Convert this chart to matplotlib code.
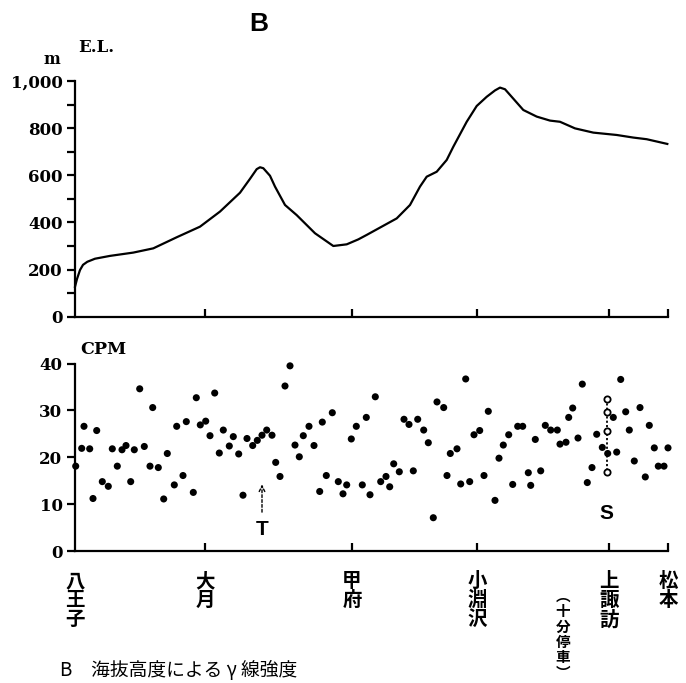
import matplotlib.pyplot as plt
from matplotlib.transforms import blended_transform_factory
from matplotlib.ticker import MultipleLocator

# positions along the line (Hachioji = 0, Matsumoto = 593)
station_x = [0, 130, 277, 402, 534, 593]
station_names = ['八王子', '大月', '甲府', '小淵沢', '上諏訪', '松本']
stop_x = 488
stop_label = '︵十分停車︶'

# elevation profile (m)
el_x = [0, 2, 5, 8, 12.3, 20, 35, 58.3, 78.3, 101.7, 125, 145, 165, 175, 181.7,
        185, 188.3, 195, 200, 210, 221.7, 240, 258.3, 271.7, 283.3, 291.7, 321.7,
        335, 345, 351.7, 361.7, 371.7, 378.3, 391.7, 401.7, 411.7, 420, 425, 430,
        435, 448.3, 461.7, 475, 485, 500, 518.3, 541.7, 558.3, 571.7, 592.3]
el_y = [127, 160, 198, 220, 233, 246, 258, 272, 290, 337, 382, 446, 526, 585, 626,
        634, 630, 598, 552, 474, 431, 354, 300, 307, 328, 347, 417, 474, 552, 594,
        615, 665, 721, 827, 894, 933, 960, 972, 965, 941, 877, 849, 832, 827, 799,
        781, 771, 760, 753, 733]

# gamma-ray counts (CPM)
cpm_x = [0.7, 6.7, 9, 14.7, 18, 21.7, 27.3, 33.3, 37.3, 42.3, 47, 51, 55.7, 59.3,
         64.7, 69.3, 75, 77.7, 83.3, 88.7, 92.3, 99.3, 101.7, 108, 111.3, 118.3,
         121.3, 125.3, 130.7, 135, 139.7, 144.3,
         148.3, 154.3, 158.3, 163.7, 168, 172, 177.7, 182.3, 187, 191.7, 197,
         200.7, 205, 210, 215, 220, 224.3, 228.3, 234, 239, 244.7, 247.3, 251.3,
         257.3, 263.3, 268, 271.7, 276.3, 281.3, 287.3, 291.3, 295,
         300.3, 305.7, 311, 314.7, 318.7, 324.3, 329, 334, 338.3, 342.7, 348.7,
         353.3, 358.3, 362, 368.7, 372, 375.3, 382, 385.7, 390.7, 394.7, 399,
         404.7, 409, 413.3, 420, 424, 428.3, 433.7, 437.7, 442.7,
         447.7, 453.3, 455.7, 460.3, 465.7, 470.3, 475.7, 482.3, 485, 491, 493.7,
         497.7, 503, 507.3, 512.3, 517, 521.7, 527.3, 532.7, 538.3, 541.7, 545.7,
         550.7, 554.3, 559.3, 565, 570.3, 574.3, 579.3, 583.3, 589, 593]
cpm_y = [18.1, 21.9, 26.6, 21.8, 11.2, 25.7, 14.8, 13.8, 21.8, 18.1, 21.6, 22.5,
         14.8, 21.6, 34.6, 22.3, 18.1, 30.6, 17.8, 11.1, 20.8, 14.1, 26.6, 16.1,
         27.6, 12.5, 32.7, 26.9, 27.7, 24.6, 33.7, 20.9,
         25.8, 22.4, 24.4, 20.7, 11.9, 24.0, 22.5, 23.6, 24.7, 25.8, 24.7, 18.9,
         15.9, 35.2, 39.5, 22.6, 20.1, 24.6, 26.6, 22.5, 12.7, 27.5, 16.1, 29.5,
         14.8, 12.2, 14.1, 23.9, 26.6, 14.1, 28.5, 12.0,
         32.9, 14.8, 15.9, 13.7, 18.6, 16.9, 28.1, 27.0, 17.1, 28.1, 25.8, 23.1,
         7.1, 31.8, 30.6, 16.1, 20.8, 21.8, 14.3, 36.7, 14.8, 24.8, 25.7, 16.1,
         29.8, 10.8, 19.8, 22.6, 24.8, 14.2, 26.6,
         26.6, 16.7, 14.0, 23.8, 17.1, 26.8, 25.8, 25.8, 22.8, 23.2, 28.5, 30.5,
         24.1, 35.6, 14.6, 17.8, 24.9, 22.1, 20.8, 28.5, 21.1, 36.6, 29.7, 25.8,
         19.2, 30.6, 15.8, 26.8, 22.0, 18.1, 18.1, 22.0]

# readings during the ten-minute stop at Kami-Suwa (open circles)
stop_cpm_x = 531.7
stop_cpm_y = [32.5, 29.6, 25.5, 16.8]

t_x = 187
t_arrow = (7.7, 14.8)

W, H = 686, 683
fig = plt.figure(figsize=(W / 100, H / 100), dpi=100)

num_font = dict(family='DejaVu Serif', weight='bold')
sans_font = dict(family='Liberation Sans', weight='bold')
jp_font = dict(family=['Noto Sans CJK JP', 'DejaVu Sans'], weight='bold')


def style(ax):
    for s in ['top', 'right']:
        ax.spines[s].set_visible(False)
    for s in ['left', 'bottom']:
        ax.spines[s].set_linewidth(1.6)
    ax.set_xlim(0, 593)
    ax.set_xticks(station_x[1:])
    ax.tick_params(axis='x', direction='in', length=6, width=1.6, labelbottom=False)
    ax.tick_params(axis='y', direction='out', length=6, width=1.6, pad=3, labelsize=12)
    for lab in ax.get_yticklabels():
        lab.set_fontfamily(num_font['family'])
        lab.set_fontweight('bold')


# elevation panel
ax1 = fig.add_axes([75 / W, 1 - 316.7 / H, 593 / W, 235.7 / H])
ax1.plot(el_x, el_y, color='black', lw=1.6, clip_on=False, solid_joinstyle='round')
ax1.set_ylim(0, 1000)
ax1.set_yticks([0, 200, 400, 600, 800, 1000])
ax1.set_yticklabels(['0', '200', '400', '600', '800', '1,000'])
ax1.yaxis.set_minor_locator(MultipleLocator(100))
ax1.tick_params(axis='y', which='minor', direction='out', length=6, width=1.6)
style(ax1)

# CPM panel
ax2 = fig.add_axes([75 / W, 1 - 551 / H, 593 / W, 187.5 / H])
ax2.scatter(cpm_x, cpm_y, s=26, color='black', edgecolors='none', clip_on=False, zorder=3)
ax2.plot([stop_cpm_x] * len(stop_cpm_y), stop_cpm_y, ls=(0, (1.2, 1.2)), color='black',
         lw=1.3, marker='o', ms=4.5, mfc='white', mec='black', mew=1.3, zorder=4)
ax2.set_ylim(0, 40)
ax2.set_yticks([0, 10, 20, 30, 40])
style(ax2)

ax2.annotate('', xy=(t_x, t_arrow[1]), xytext=(t_x, t_arrow[0]),
             arrowprops=dict(arrowstyle='->', lw=1.0, ls=(0, (2, 1.5)), color='black'))
ax2.text(t_x, 4.6, 'T', ha='center', va='center', fontsize=15, **sans_font)
ax2.text(stop_cpm_x, 8.1, 'S', ha='center', va='center', fontsize=15, **sans_font)

# titles and axis names
fig.text(259 / W, 1 - 24 / H, 'B', ha='center', va='center', fontsize=19, **sans_font)
fig.text(78 / W, 1 - 47 / H, 'E.L.', ha='left', va='center', fontsize=12, **num_font)
fig.text(52 / W, 1 - 59 / H, 'm', ha='center', va='center', fontsize=11.5, **num_font)
fig.text(80 / W, 1 - 349 / H, 'CPM', ha='left', va='center', fontsize=12.5, **num_font)

# station names, written vertically
tr = blended_transform_factory(ax2.transData, fig.transFigure)
for x, name in zip(station_x, station_names):
    ax2.text(x, 1 - 572 / H, '\n'.join(name), transform=tr, ha='center', va='top',
             fontsize=14, linespacing=1.0, clip_on=False, **jp_font)
ax2.text(stop_x, 1 - 588 / H, '\n'.join(stop_label), transform=tr, ha='center', va='top',
         fontsize=10.5, linespacing=0.95, clip_on=False, **jp_font)

fig.text(60 / W, 1 - 681 / H, 'B　海抜高度による γ 線強度', ha='left', va='bottom',
         fontsize=13.5, family=['Noto Sans CJK JP', 'DejaVu Sans'])

fig.savefig('out.png', dpi=100)
